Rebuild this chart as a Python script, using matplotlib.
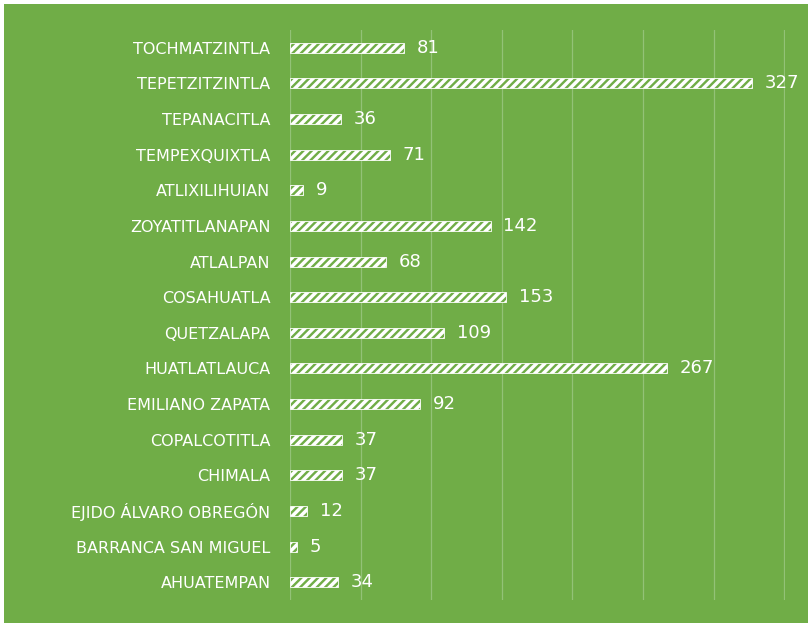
import matplotlib.pyplot as plt
from matplotlib.patches import Rectangle

plt.rcParams['hatch.color'] = 'white'
plt.rcParams['hatch.linewidth'] = 2.5

localidades = ['TOCHMATZINTLA', 'TEPETZITZINTLA', 'TEPANACITLA', 'TEMPEXQUIXTLA',
               'ATLIXILIHUIAN', 'ZOYATITLANAPAN', 'ATLALPAN', 'COSAHUATLA',
               'QUETZALAPA', 'HUATLATLAUCA', 'EMILIANO ZAPATA', 'COPALCOTITLA',
               'CHIMALA', 'EJIDO ÁLVARO OBREGÓN', 'BARRANCA SAN MIGUEL', 'AHUATEMPAN']
valores = [81, 327, 36, 71, 9, 142, 68, 153, 109, 267, 92, 37, 37, 12, 5, 34]

verde = '#70AD47'
fig = plt.figure(figsize=(8.08, 6.23), dpi=100, facecolor='white')
fig.patches.append(Rectangle((4 / 808, 0), 1, 1 - 4 / 623, transform=fig.transFigure,
                             facecolor=verde, edgecolor='none', zorder=-10))
ax = fig.add_axes([290 / 808, 23 / 623, 495 / 808, 570 / 623])
ax.set_facecolor(verde)

y = list(range(len(localidades)))
bars = ax.barh(y, valores, height=0.28, color=verde, edgecolor='white',
               linewidth=0.6, hatch='////', zorder=3)
for yi, v in zip(y, valores):
    ax.text(v + 9, yi, str(v), va='center', ha='left', color='white', fontsize=13)

ax.set_yticks(y)
ax.set_yticklabels(localidades, color='white', fontsize=11.5)
ax.set_ylim(len(localidades) - 0.5, -0.5)
ax.set_xlim(0, 350.5)
ax.set_xticks(range(0, 351, 50))
ax.tick_params(axis='x', length=0, labelbottom=False)
ax.tick_params(axis='y', length=0, pad=14)
ax.grid(axis='x', color='#93c277', linewidth=0.9, zorder=0)
ax.set_axisbelow(True)
for s in ax.spines.values():
    s.set_visible(False)

plt.savefig('out.png', dpi=100, facecolor='white')
